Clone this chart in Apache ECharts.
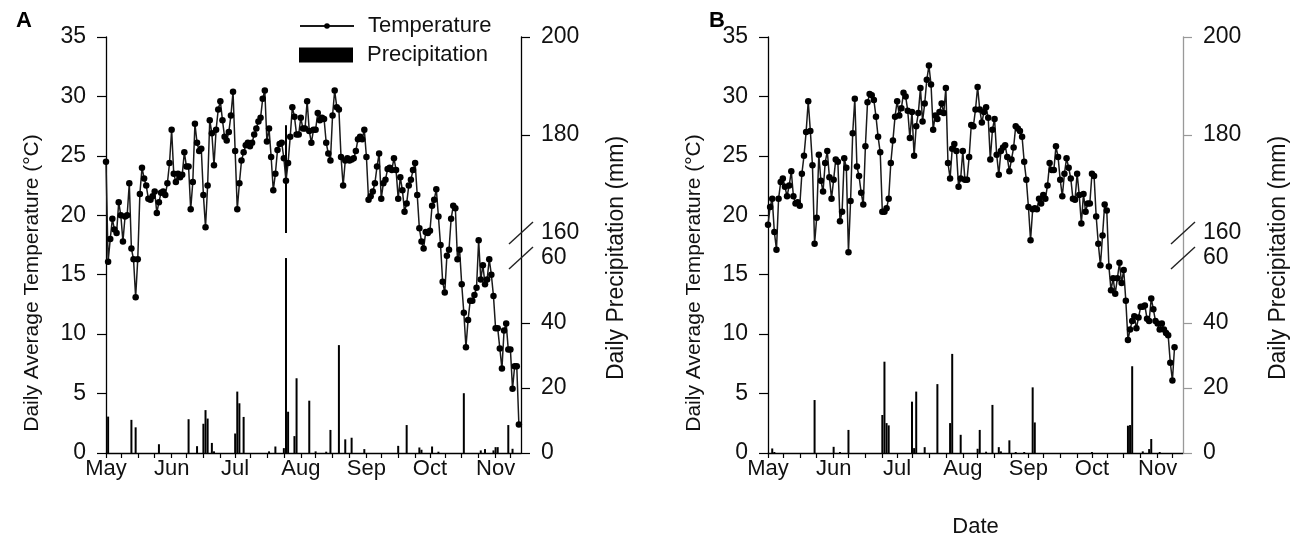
<!DOCTYPE html>
<html>
<head>
<meta charset="utf-8">
<script src="https://cdn.jsdelivr.net/npm/echarts@6/dist/echarts.min.js"></script>
<style>
  html, body { margin: 0; background: #fff; }
  #chart { width: 1299px; height: 548px; }
</style>
</head>
<body>
<div id="chart"></div>
<script>
// one category per day, starting May 1
const startDay = Date.UTC(2021, 4, 1);
const dayCount = 197;
const monthNames = { '05': 'May', '06': 'Jun', '07': 'Jul', '08': 'Aug', '09': 'Sep', '10': 'Oct', '11': 'Nov' };
const tickDays = [1, 8, 16, 24];

// panel A – daily average temperature (°C), from May 1
const tempA = [
  24.5, 16.1, 18.0, 19.7, 18.8, 18.5, 21.1, 20.0, 17.8, 19.9,
  20.0, 22.7, 17.2, 16.3, 13.1, 16.3, 21.8, 24.0, 23.1, 22.5,
  21.4, 21.3, 21.6, 22.0, 20.2, 21.1, 21.9, 22.0, 21.7, 22.7,
  24.4, 27.2, 23.5, 22.8, 23.5, 23.2, 23.4, 25.3, 24.1, 24.1,
  20.5, 22.8, 27.7, 26.1, 25.4, 25.6, 21.7, 19.0, 22.5, 28.0,
  26.9, 24.2, 27.2, 28.9, 29.6, 28.0, 26.6, 26.3, 27.0, 28.4,
  30.4, 25.4, 20.5, 22.7, 24.6, 25.3, 25.9, 26.1,
  25.8, 26.1, 26.8, 27.3, 27.9, 28.2, 29.8, 30.5, 26.2, 27.3,
  24.9, 22.1, 23.5, 25.5, 26.0, 26.1, 24.8, 22.9, 24.4, 26.6,
  29.1, 28.3, 26.8, 26.8, 28.2, 27.3, 27.3, 29.6, 27.1, 26.1,
  27.2, 27.2, 28.6, 28.0, 28.2, 28.1, 26.1, 25.2, 24.6, 28.4,
  30.5, 29.1, 28.9, 24.9, 22.5, 24.6, 24.8, 24.6, 24.7, 24.8,
  25.4, 26.4, 26.6, 26.4, 27.2, 24.9, 21.3, 21.6, 22.0, 22.7,
  24.1, 25.2, 21.4, 22.7, 23.0, 23.9,
  24.0, 23.8, 24.8, 23.8, 21.4, 23.2, 22.1, 20.3, 21.0, 22.5,
  23.0, 23.8, 24.4, 21.7, 18.9, 17.8, 17.2, 18.6, 18.5, 18.7,
  20.8, 21.3, 22.2, 19.9, 17.5, 14.4, 13.5, 16.6, 17.1, 19.7,
  20.8, 20.6, 16.3, 17.1, 14.2, 11.8, 8.9, 11.2, 12.8, 12.8,
  13.3, 13.9, 17.9, 14.6, 15.8, 14.2, 14.6, 16.3, 15.0, 13.2,
  10.5, 10.5, 8.8, 7.1, 10.3, 10.9, 8.7, 8.7, 5.4, 7.3,
  7.3, 2.4
];

// panel A – rain days (offset from May 1) and amounts (mm)
const rainDayA = [1, 12, 14, 25, 39, 43, 46, 47, 48, 50, 51, 61, 62, 63, 65, 77, 80, 84, 85, 86,
  89, 90, 96, 99, 104, 106, 110, 113, 116, 122, 138, 142, 148, 149, 154, 157, 169, 177, 179, 183,
  184, 185, 190, 192];
const rainMmA = [11.2, 10.2, 7.9, 2.7, 10.4, 2.1, 9.0, 13.2, 10.6, 3.1, 0.5, 6.0, 18.9, 15.3, 11.1, 0.5, 2.0, 1.5, 182, 12.7,
  5.2, 23.0, 16.1, 0.5, 0.4, 7.1, 33.2, 4.2, 4.7, 1.2, 2.2, 8.6, 1.7, 1.0, 2.0, 0.4, 18.4, 0.8, 1.2, 0.8,
  1.8, 1.8, 8.6, 1.3];

// panel B – daily average temperature (°C), from May 1
const tempB = [
  19.2, 20.7, 21.4, 18.6, 17.1, 21.4, 22.8, 23.1, 22.4, 21.6,
  22.5, 23.7, 21.6, 21.0, 21.1, 20.8, 23.5, 25.0, 27.0, 29.6,
  27.1, 24.2, 17.6, 19.8, 25.1, 22.9, 22.0, 24.4, 25.4, 23.2,
  21.4, 23.0, 24.7, 24.5, 19.5, 20.3, 24.8, 24.0, 16.9, 21.2,
  26.9, 29.8, 24.1, 23.3, 21.9, 20.9, 25.8, 29.5, 30.2, 30.1,
  29.7, 28.3, 26.6, 25.3, 20.3, 20.3, 20.6, 21.4, 24.4, 26.3,
  28.3, 29.6, 28.4, 29.0, 30.3,
  30.0, 28.8, 26.5, 28.7, 25.0, 27.5, 28.6, 30.7, 27.9, 29.4,
  31.4, 32.6, 31.0, 27.2, 28.4, 28.1, 28.7, 29.4, 28.6, 30.7,
  24.4, 23.1, 25.6, 26.0, 25.4, 22.4, 23.1, 25.4, 23.0, 23.0,
  24.9, 27.6, 27.5, 28.9, 30.8, 28.9, 27.8, 28.7, 29.1, 28.2,
  24.7, 27.2, 28.1, 25.1, 23.4, 25.4, 25.7, 25.9, 24.9, 23.7,
  24.7, 25.7, 27.5, 27.3, 27.1, 26.6, 24.5, 23.0, 20.7, 17.9,
  20.5, 20.6, 20.5, 21.4, 21.0, 21.7,
  21.4, 22.5, 24.4, 23.8, 23.8, 25.8, 24.9, 23.0, 21.6, 23.5,
  24.8, 24.0, 23.1, 21.4, 21.3, 23.5, 21.7, 19.3, 21.8, 20.3,
  21.0, 21.0, 23.5, 23.3, 19.9, 17.6, 15.8, 18.3, 20.9, 20.4,
  15.7, 13.7, 14.7, 13.4, 14.7, 16.0, 14.3, 15.4, 12.8, 9.5,
  10.4, 11.1, 11.5, 10.5, 11.4, 12.3, 12.3, 12.4, 11.3, 11.1,
  13.0, 12.1, 11.1, 10.9, 10.4, 10.9, 10.4, 10.1, 9.9, 7.6,
  6.1, 8.9
];

// panel B – rain days (offset from May 1) and amounts (mm)
const rainDayB = [2, 3, 22, 31, 34, 38, 54, 55, 56, 57, 68, 69, 70, 74, 80, 86, 87, 91, 99, 100,
  103, 106, 109, 110, 114, 117, 121, 125, 126, 153, 170, 171, 172, 177, 180, 181, 185];
const rainMmB = [1.4, 0.3, 16.3, 1.9, 0.3, 7.1, 11.7, 28.1, 9.2, 8.5, 15.8, 1.5, 18.9, 1.8, 21.2, 9.2, 30.5, 5.6, 1.3, 7.1,
  0.4, 14.8, 1.8, 0.5, 3.9, 0.3, 0.3, 20.2, 9.4, 0.3, 8.4, 8.6, 26.7, 0.5, 1.2, 4.3, 0.3];

const tempTicks = { min: 0, max: 35, step: 5 };
const rainLabels = [0, 20, 40, 60, 160, 180, 200];
const rainTicks = [0, 20, 40, 180, 200];

// broken precipitation axis: 0-60 below, 160-200 above (upper part drawn 1.5x taller)
const breakLow = 60;
const breakHigh = 160;
const breakGap = 7.7;
const upperScale = 1.508;
const toAxis = (p) => (p <= breakLow ? p : breakLow + breakGap + (p - breakHigh) * upperScale);
const fromAxis = (v) => (v <= breakLow ? v : breakHigh + (v - breakLow - breakGap) / upperScale);
const rainAxisMax = toAxis(200);

const FONT = "'Liberation Sans', Arial, sans-serif";

const dates = [];
for (let i = 0; i < dayCount; i++) {
  const d = new Date(startDay + i * 86400000);
  dates.push(String(d.getUTCMonth() + 1).padStart(2, '0') + '-' + String(d.getUTCDate()).padStart(2, '0'));
}

function dailyRain(days, mm) {
  const arr = dates.map(() => null);
  days.forEach((d, i) => { arr[d] = mm[i]; });
  return arr;
}

function rainParts(days, mm) {
  const daily = dailyRain(days, mm);
  return {
    low: daily.map((p) => (p == null ? null : Math.min(p, breakLow))),
    gap: daily.map((p) => (p != null && p > breakLow ? breakGap : null)),
    high: daily.map((p) => (p != null && p > breakLow ? toAxis(p) - toAxis(breakHigh) : null)),
  };
}

const partsA = rainParts(rainDayA, rainMmA);
const partsB = rainParts(rainDayB, rainMmB);

const grids = [
  { left: 106, top: 37, width: 415, height: 416 },
  { left: 768, top: 37, width: 415, height: 416 },
];

function xAxisFor(k) {
  return {
    type: 'category',
    gridIndex: k,
    data: dates,
    boundaryGap: false,
    axisLine: { lineStyle: { color: '#000', width: 1.3 } },
    axisTick: {
      length: 5,
      interval: (i, v) => tickDays.includes(+v.slice(3)),
      lineStyle: { color: '#000', width: 1.2 },
    },
    axisLabel: {
      interval: (i, v) => v.slice(3) === '01',
      formatter: (v) => monthNames[v.slice(0, 2)],
      fontSize: 22, color: '#111', margin: 5, fontFamily: FONT,
    },
    splitLine: { show: false },
    name: k === 1 ? 'Date' : '',
    nameLocation: 'middle',
    nameGap: 63,
    nameTextStyle: { fontSize: 22, color: '#111', fontFamily: FONT },
  };
}

function tempAxisFor(k) {
  return {
    type: 'value',
    gridIndex: k,
    position: 'left',
    min: tempTicks.min,
    max: tempTicks.max,
    interval: tempTicks.step,
    axisLine: { show: true, lineStyle: { color: '#000', width: 1.3 } },
    axisTick: { show: true, length: 9, lineStyle: { color: '#000', width: 1.2 } },
    axisLabel: { fontSize: 23, color: '#111', margin: 20, fontFamily: FONT },
    splitLine: { show: false },
    name: 'Daily Average Temperature (°C)',
    nameLocation: 'middle',
    nameRotate: 90,
    nameGap: 63,
    nameTextStyle: { fontSize: 21, color: '#111', fontFamily: FONT, padding: [0, 76, 0, 0] },
  };
}

function rainAxisFor(k, lineColor) {
  return {
    type: 'value',
    gridIndex: k,
    position: 'right',
    min: 0,
    max: rainAxisMax,
    axisLine: { show: true, lineStyle: { color: lineColor, width: 1.3 } },
    axisTick: {
      show: true, length: 9, customValues: rainTicks.map(toAxis),
      lineStyle: { color: lineColor, width: 1.2 },
    },
    axisLabel: {
      customValues: rainLabels.map(toAxis),
      formatter: (v) => String(Math.round(fromAxis(v))),
      fontSize: 23, color: '#111', margin: 20, fontFamily: FONT,
    },
    splitLine: { show: false },
    name: 'Daily Precipitation (mm)',
    nameLocation: 'middle',
    nameRotate: 90,
    nameGap: 84,
    nameTextStyle: { fontSize: 23, color: '#111', fontFamily: FONT, padding: [0, 26, 0, 0] },
  };
}

function panelSeries(k, temps, parts) {
  const xi = k, tY = k * 2, rY = k * 2 + 1;
  const bar = { type: 'bar', xAxisIndex: xi, yAxisIndex: rY, stack: 'rain' + k, barWidth: 2, z: 2, animation: false };
  return [
    Object.assign({}, bar, { name: 'Precipitation', data: parts.low, itemStyle: { color: '#000' } }),
    Object.assign({}, bar, { name: 'gap' + k, data: parts.gap, itemStyle: { color: 'rgba(0,0,0,0)' } }),
    Object.assign({}, bar, { name: 'upper' + k, data: parts.high, itemStyle: { color: '#000' } }),
    {
      name: 'Temperature', type: 'line', xAxisIndex: xi, yAxisIndex: tY, data: temps,
      symbol: 'circle', symbolSize: 6.5, showAllSymbol: true, z: 3, animation: false,
      lineStyle: { color: '#1a1a1a', width: 1.5 },
      itemStyle: { color: '#000' },
    },
  ];
}

const chart = echarts.init(document.getElementById('chart'));

chart.setOption({
  backgroundColor: '#fff',
  textStyle: { fontFamily: FONT },
  title: [
    { text: 'A', left: 11, top: 5, textStyle: { fontSize: 22, fontWeight: 'bold', color: '#000', fontFamily: FONT } },
    { text: 'B', left: 704, top: 5, textStyle: { fontSize: 22, fontWeight: 'bold', color: '#000', fontFamily: FONT } },
  ],
  legend: [
    {
      left: 299, top: 15, padding: 0, itemWidth: 54, itemHeight: 7, selectedMode: false,
      data: ['Temperature'],
      textStyle: { fontSize: 22, color: '#111', fontFamily: FONT, padding: [0, 0, 0, 9] },
    },
    {
      left: 299, top: 44, padding: 0, itemWidth: 54, itemHeight: 15, selectedMode: false,
      data: [{ name: 'Precipitation', icon: 'rect' }],
      textStyle: { fontSize: 22, color: '#111', fontFamily: FONT, padding: [0, 0, 0, 9] },
    },
  ],
  grid: grids,
  xAxis: [xAxisFor(0), xAxisFor(1)],
  yAxis: [tempAxisFor(0), rainAxisFor(0, '#000'), tempAxisFor(1), rainAxisFor(1, '#999')],
  series: [...panelSeries(0, tempA, partsA), ...panelSeries(1, tempB, partsB)],
});

// "//" break marks on both precipitation axes
const marks = [];
[0, 1].forEach((k) => {
  const x = chart.convertToPixel({ xAxisIndex: k }, dates[dates.length - 1]);
  [breakLow, breakHigh].forEach((p) => {
    const y = chart.convertToPixel({ yAxisIndex: k * 2 + 1 }, toAxis(p));
    marks.push({
      type: 'line', z: 10,
      shape: { x1: x - 12, y1: y + 11, x2: x + 12, y2: y - 11 },
      style: { stroke: '#222', lineWidth: 1.4 },
    });
  });
});
chart.setOption({ graphic: marks });
</script>
</body>
</html>
